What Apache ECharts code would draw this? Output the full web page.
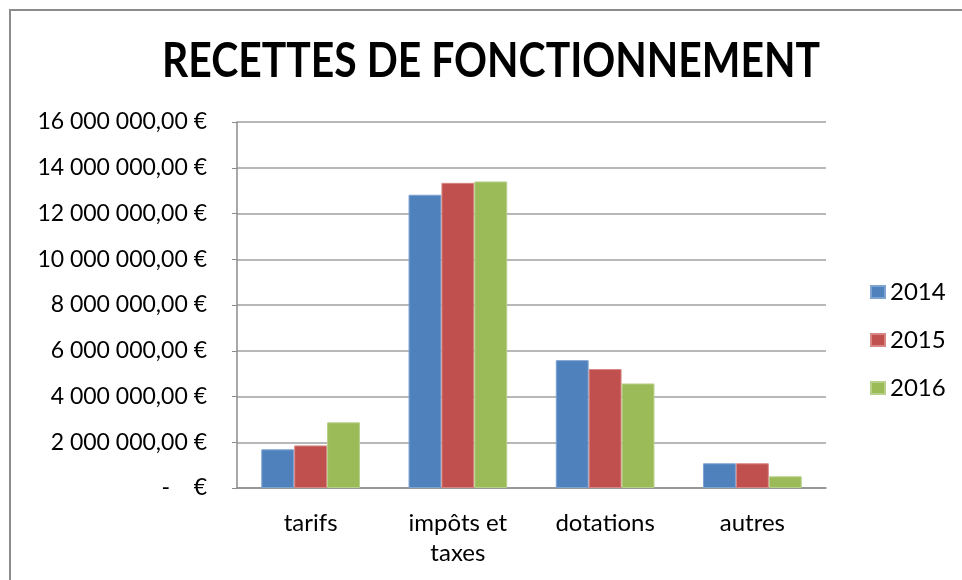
<!DOCTYPE html>
<html>
<head>
<meta charset="utf-8">
<script src="https://cdn.jsdelivr.net/npm/echarts@6/dist/echarts.min.js"></script>
<style>html,body{margin:0;padding:0;background:#fff;}#c{width:962px;height:580px;}</style>
</head>
<body>
<div id="c"></div>
<script>
const categories = ['tarifs', 'impôts et taxes', 'dotations', 'autres'];
const years = ['2014', '2015', '2016'];
const values2014 = [1690000, 12820000, 5590000, 1080000];
const values2015 = [1860000, 13340000, 5200000, 1080000];
const values2016 = [2870000, 13400000, 4570000, 510000];
const yTicks = [0, 2000000, 4000000, 6000000, 8000000, 10000000, 12000000, 14000000, 16000000];
const titleText = 'RECETTES DE FONCTIONNEMENT';

const colors = ['#4F81BD', '#C0504D', '#9BBB59'];
const borders = ['#7FA3D1', '#D88684', '#B7CF8A'];
const seriesValues = [values2014, values2015, values2016];

function fmtEuro(v) {
  if (v === 0) return '-    €';
  const s = Math.round(v).toString().replace(/\B(?=(\d{3})+(?!\d))/g, ' ');
  return s + ',00 €';
}

// condense the title font to mimic Calibri Bold's narrow width
const titleFont = 'bold 48px Lato';
const mctx = document.createElement('canvas').getContext('2d');
mctx.font = titleFont;
const titleW = mctx.measureText(titleText).width || 658;
const titleScale = Math.min(1, 658 / titleW);

const chart = echarts.init(document.getElementById('c'));
const font = 'Lato, "Open Sans", sans-serif';
chart.setOption({
  animation: false,
  backgroundColor: '#fff',
  graphic: [{
    type: 'rect',
    shape: { x: 10, y: 10, width: 1000, height: 1000 },
    style: { fill: 'none', stroke: '#8c8c8c', lineWidth: 2 },
    silent: true
  }, {
    type: 'text',
    x: 491,
    y: 62,
    scaleX: titleScale,
    style: {
      text: titleText,
      font: titleFont,
      fill: '#000',
      align: 'center',
      verticalAlign: 'middle'
    }
  }],
  legend: {
    data: years,
    orient: 'vertical',
    left: 870,
    top: 280,
    padding: 0,
    itemWidth: 14,
    itemHeight: 12,
    itemGap: 24,
    icon: 'rect',
    textStyle: { fontFamily: font, fontSize: 24, color: '#000' }
  },
  grid: { left: 237, right: 136, top: 122, bottom: 92, containLabel: false },
  xAxis: {
    type: 'category',
    data: categories,
    axisLine: { lineStyle: { color: '#8c8c8c', width: 1.5 } },
    axisTick: { show: false },
    axisLabel: {
      fontFamily: font, fontSize: 24, color: '#000', margin: 20, lineHeight: 30,
      formatter: v => v.replace(' et ', ' et\n')
    }
  },
  yAxis: {
    type: 'value',
    min: 0,
    max: yTicks[yTicks.length - 1],
    interval: yTicks[1] - yTicks[0],
    axisLine: { show: true, lineStyle: { color: '#8c8c8c', width: 1.5 } },
    axisTick: { show: true, length: 5, lineStyle: { color: '#8c8c8c' } },
    splitLine: { lineStyle: { color: '#a0a0a0', width: 1.5 } },
    axisLabel: { fontFamily: font, fontSize: 23, color: '#000', margin: 30, formatter: fmtEuro }
  },
  series: years.map((y, i) => ({
    name: y,
    type: 'bar',
    data: seriesValues[i],
    barGap: '0%',
    barCategoryGap: '33%',
    itemStyle: { color: colors[i], borderColor: borders[i], borderWidth: 1 }
  }))
});
</script>
</body>
</html>
